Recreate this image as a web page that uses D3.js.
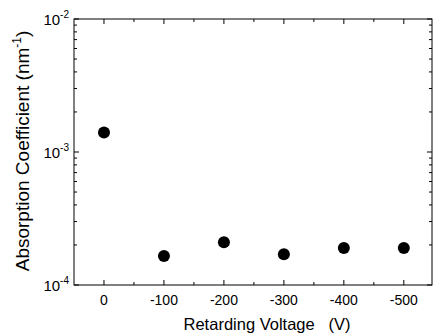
<!DOCTYPE html>
<html>
  <head>
    <script src="https://d3js.org/d3.v7.min.js"></script>
    <style>
      body { margin: 0; background: #fff; }
      text { font-family: "Liberation Sans", Arial, sans-serif; fill: #000; }
    </style>
  </head>
  <body>
    <svg width="433" height="335"></svg>
    <script>
      const voltages = [0, -100, -200, -300, -400, -500];
      const absorption = [1.4e-3, 1.65e-4, 2.1e-4, 1.7e-4, 1.9e-4, 1.9e-4];
      const xTicks = [0, -100, -200, -300, -400, -500];
      const yTicks = [1e-4, 1e-3, 1e-2];

      const plotLeft = 74, plotRight = 432, plotTop = 19, plotBottom = 285;
      const svg = d3.select("svg");

      const x = d3.scaleLinear().domain([50, -547]).range([plotLeft, plotRight]);
      const y = d3.scaleLog().domain([1e-4, 1e-2]).range([plotBottom, plotTop]);

      const minorY = [];
      [1e-4, 1e-3].forEach(d => { for (let k = 2; k <= 9; k++) minorY.push(d * k); });
      const minorX = d3.range(50, -551, -50).filter(v => !xTicks.includes(v) && v > -547 && v < 50);

      const frame = svg.append("g").attr("stroke", "#000").attr("stroke-width", 1);
      frame.append("rect")
        .attr("x", plotLeft).attr("y", plotTop)
        .attr("width", plotRight - plotLeft).attr("height", plotBottom - plotTop)
        .attr("fill", "none");

      // bottom and top ticks (inward)
      xTicks.forEach(v => {
        frame.append("line").attr("x1", x(v)).attr("x2", x(v)).attr("y1", plotBottom).attr("y2", plotBottom - 5);
        frame.append("line").attr("x1", x(v)).attr("x2", x(v)).attr("y1", plotTop).attr("y2", plotTop + 5);
      });
      minorX.forEach(v => {
        frame.append("line").attr("x1", x(v)).attr("x2", x(v)).attr("y1", plotBottom).attr("y2", plotBottom - 3);
        frame.append("line").attr("x1", x(v)).attr("x2", x(v)).attr("y1", plotTop).attr("y2", plotTop + 3);
      });
      // left and right ticks (inward)
      yTicks.forEach(v => {
        frame.append("line").attr("x1", plotLeft).attr("x2", plotLeft + 5).attr("y1", y(v)).attr("y2", y(v));
        frame.append("line").attr("x1", plotRight).attr("x2", plotRight - 5).attr("y1", y(v)).attr("y2", y(v));
      });
      minorY.forEach(v => {
        frame.append("line").attr("x1", plotLeft).attr("x2", plotLeft + 3).attr("y1", y(v)).attr("y2", y(v));
        frame.append("line").attr("x1", plotRight).attr("x2", plotRight - 3).attr("y1", y(v)).attr("y2", y(v));
      });

      svg.append("g").selectAll("text").data(xTicks).join("text")
        .attr("x", d => x(d)).attr("y", plotBottom + 20)
        .attr("text-anchor", "middle").attr("font-size", 14)
        .text(d => d);

      const yl = svg.append("g").selectAll("text").data(yTicks).join("text")
        .attr("x", plotLeft - 5).attr("y", d => y(d) + 6)
        .attr("text-anchor", "end").attr("font-size", 15);
      yl.append("tspan").text("10");
      yl.append("tspan").attr("dy", -7).attr("font-size", 10).text(d => Math.round(Math.log10(d)));

      svg.append("g").selectAll("circle").data(voltages).join("circle")
        .attr("cx", d => x(d))
        .attr("cy", (d, i) => y(absorption[i]))
        .attr("r", 6)
        .attr("fill", "#000");

      svg.append("text")
        .attr("x", 267).attr("y", 330)
        .attr("text-anchor", "middle").attr("font-size", 16.5)
        .attr("xml:space", "preserve")
        .text("Retarding Voltage   (V)");

      const ylab = svg.append("text")
        .attr("transform", "translate(29, 151) rotate(-90)")
        .attr("text-anchor", "middle").attr("font-size", 19);
      ylab.append("tspan").text("Absorption Coefficient (nm");
      ylab.append("tspan").attr("dy", -8).attr("font-size", 12).text("-1");
      ylab.append("tspan").attr("dy", 8).text(")");
    </script>
  </body>
</html>
